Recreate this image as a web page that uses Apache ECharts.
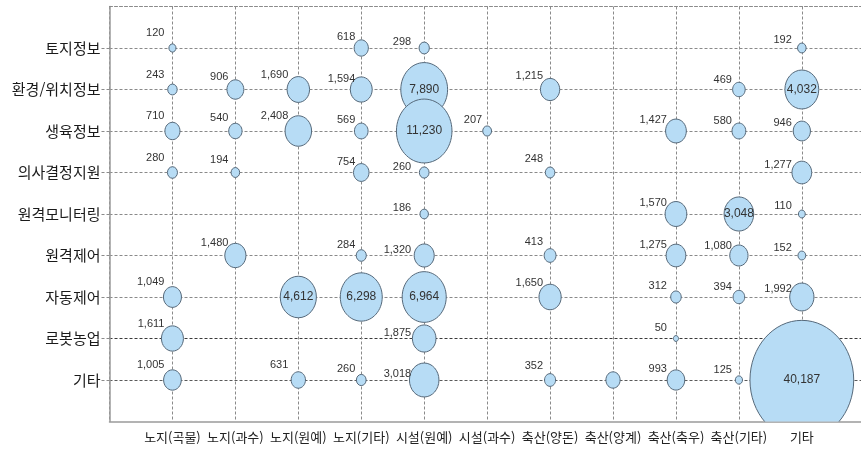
<!DOCTYPE html>
<html lang="ko">
<head>
<meta charset="utf-8">
<title>스마트농업 기술 분야별 현황</title>
<script src="https://cdn.jsdelivr.net/npm/echarts@6/dist/echarts.min.js"></script>
<style>
  html, body { margin: 0; padding: 0; background: #ffffff; }
  #chart { width: 861px; height: 449px; }
</style>
</head>
<body>
<div id="chart"></div>
<script>
// 적용 분야 (가로축)
const fieldNames = ['노지(곡물)', '노지(과수)', '노지(원예)', '노지(기타)', '시설(원예)', '시설(과수)',
                    '축산(양돈)', '축산(양계)', '축산(축우)', '축산(기타)', '기타'];
// 기술 분류 (세로축, 위에서 아래 순)
const techNames = ['토지정보', '환경/위치정보', '생육정보', '의사결정지원', '원격모니터링',
                   '원격제어', '자동제어', '로봇농업', '기타'];

// 기술 분류별 건수 (fieldNames 순서, 없으면 null)
const landInfo      = [120,  null, null, 618,  298,   null, null, null, null, null, 192];
const envLocation   = [243,  906,  1690, 1594, 7890,  null, 1215, null, null, 469,  4032];
const growthInfo    = [710,  540,  2408, 569,  11230, 207,  null, null, 1427, 580,  946];
const decisionAid   = [280,  194,  null, 754,  260,  null, 248,  null, null, null, 1277];
const remoteMonitor = [null, null, null, null, 186,  null, null, null, 1570, 3048, 110];
const remoteControl = [null, 1480, null, 284,  1320, null, 413,  null, 1275, 1080, 152];
const autoControl   = [1049, null, 4612, 6298, 6964, null, 1650, null, 312,  394,  1992];
const robotFarming  = [1611, null, null, null, 1875, null, null, null, 50,   null, null];
const otherTech     = [1005, null, 631,  260,  3018, null, 352,  620,  993,  125,  40187];

const techRows = [landInfo, envLocation, growthInfo, decisionAid, remoteMonitor,
                  remoteControl, autoControl, robotFarming, otherTech];

// 수치 표시를 생략하는 칸 [행, 열]
const unlabeledCells = [[8, 7]];

// ---- 표현 설정 ----
const INSIDE_MIN = 3030;            // 이 값 이상은 원 안에 수치 표시
const HEIGHT_RATIO = 1.15;          // 원의 세로/가로 비
// 열마다 바깥 수치 라벨의 위치 보정 [x, y]
const columnLabelOffset = [[-8, -15], [-7, -13], [-10, -15], [-6, -11], [-13, -6], [-5, -11],
                           [-7, -14], [-7, -12], [-9, -11], [-7, -10], [-10, -8]];

function bubbleWidth(v) { return 1.5 + 0.51 * Math.sqrt(v); }
function fmt(v) { return v.toLocaleString('en-US'); }

// [가로 위치, 세로 위치, 건수]
const points = [];
techRows.forEach((row, r) => {
  row.forEach((v, c) => {
    if (v == null) return;
    points.push([c + 1, techNames.length - r, v]);
  });
});

function renderBubble(params, api) {
  const xv = api.value(0), yv = api.value(1), v = api.value(2);
  const col = xv - 1, row = techNames.length - yv;
  const [cx, cy] = api.coord([xv, yv]);
  const w = bubbleWidth(v), h = w * HEIGHT_RATIO;
  const children = [{
    type: 'ellipse',
    shape: { cx, cy, rx: w / 2, ry: h / 2 },
    style: { fill: '#b7dcf5', stroke: '#56697a', lineWidth: 1 }
  }];
  const hidden = unlabeledCells.some(([rr, cc]) => rr === row && cc === col);
  if (!hidden) {
    const inside = v >= INSIDE_MIN;
    const off = inside ? [0, 0] : columnLabelOffset[col];
    children.push({
      type: 'text',
      x: cx + off[0], y: cy + off[1],
      style: {
        text: fmt(v),
        fill: '#333',
        font: (inside ? '12px' : '11px') + ' "Liberation Sans", Arial, sans-serif',
        align: inside ? 'center' : 'right',
        verticalAlign: 'middle',
        textAlign: inside ? 'center' : 'right',
        textVerticalAlign: 'middle'
      }
    });
  }
  return { type: 'group', children };
}

const chart = echarts.init(document.getElementById('chart'), null, { renderer: 'canvas' });

const GRID_GREY = '#8a8a8a';
const dashed = { color: GRID_GREY, width: 1, type: [3, 2] };
// 가로 격자선 색 (아래 1부터 위 10까지 순서)
const rowLineColors = ['#5a5a5a', '#3a3a3a', GRID_GREY, GRID_GREY, GRID_GREY,
                       GRID_GREY, GRID_GREY, GRID_GREY, GRID_GREY, GRID_GREY];

chart.setOption({
  animation: false,
  backgroundColor: '#ffffff',
  grid: { left: 109.5, right: 0, top: 6.5, bottom: 27.5, containLabel: false },
  xAxis: [{
    type: 'value', min: 0, max: 11.94, interval: 1,
    axisLine: { show: true, onZero: false, lineStyle: { color: '#9a9a9a', width: 1.5 } },
    axisTick: { show: false },
    axisLabel: {
      margin: 9, fontSize: 13, color: '#222', fontFamily: 'Noto Sans CJK KR',
      showMaxLabel: false,
      formatter: v => fieldNames[v - 1] || ''
    },
    splitLine: { show: true, showMaxLine: false, lineStyle: dashed }
  }, {
    // 위쪽 테두리 점선
    type: 'value', position: 'top', min: 0, max: 11.94,
    axisLine: { show: true, onZero: false, lineStyle: dashed },
    axisTick: { show: false }, axisLabel: { show: false }, splitLine: { show: false }
  }],
  yAxis: {
    type: 'value', min: 0, max: 10, interval: 1,
    axisLine: { show: true, onZero: false, lineStyle: { color: '#9a9a9a', width: 1.5 } },
    axisTick: { show: true, length: 8, customValues: [1, 2, 3, 4, 5, 6, 7, 8, 9], lineStyle: dashed },
    axisLabel: {
      margin: 9, fontSize: 15, color: '#1a1a1a', fontFamily: 'Noto Sans CJK KR',
      formatter: v => (v >= 1 && v <= 9) ? techNames[techNames.length - v] : ''
    },
    splitLine: { show: true, lineStyle: Object.assign({}, dashed, { color: rowLineColors }) }
  },
  series: [{
    type: 'custom',
    clip: true,
    data: points,
    dimensions: ['field', 'tech', 'count'],
    encode: { x: 0, y: 1 },
    renderItem: renderBubble,
    emphasis: { disabled: true }
  }]
});
</script>
</body>
</html>
